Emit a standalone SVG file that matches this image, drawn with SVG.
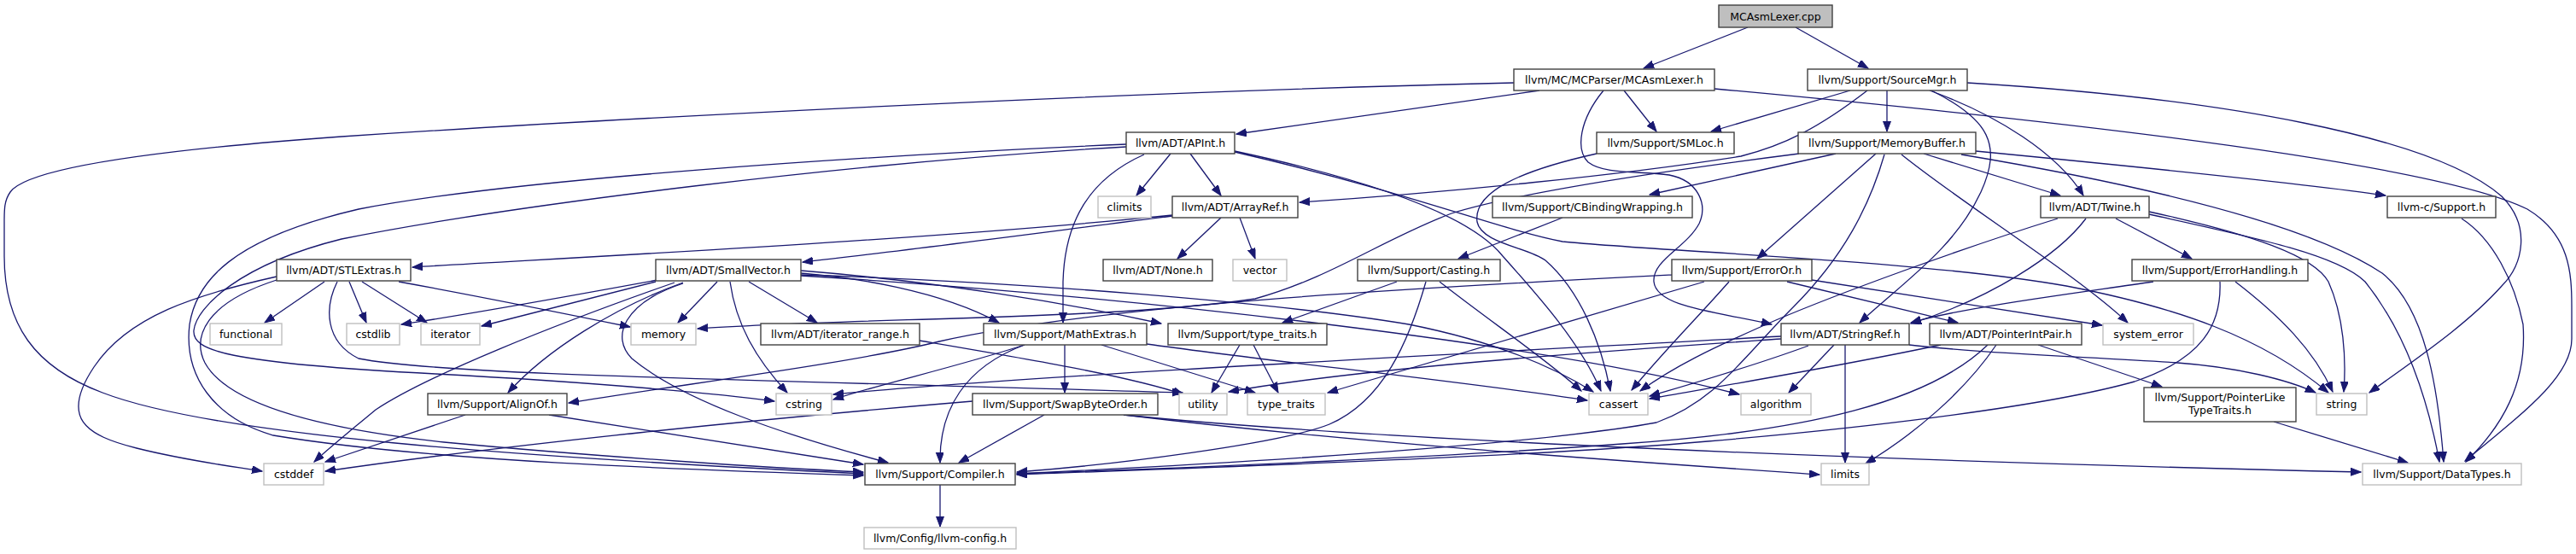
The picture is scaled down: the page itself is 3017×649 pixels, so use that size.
<svg xmlns="http://www.w3.org/2000/svg" width="3017" height="649" viewBox="0 0 3017 649">
<style>
.n rect{fill:#fff;stroke:#404040;stroke-width:1.4}
.g rect{fill:#fff;stroke:#bfbfbf;stroke-width:1.4}
.r rect{fill:#bfbfbf;stroke:#404040;stroke-width:1.4}
text{font-family:"DejaVu Sans","Liberation Sans",sans-serif;font-size:12.5px;text-anchor:middle;fill:#000}
#edges path{fill:none;stroke:#191970;stroke-width:1.3;marker-end:url(#a)}
</style>
<defs>
<marker id="a" markerUnits="userSpaceOnUse" markerWidth="13" markerHeight="10" refX="12" refY="4.5" orient="auto">
<path d="M0,0 L12,4.5 L0,9 z" fill="#191970" stroke="#191970" stroke-width="1"/>
</marker>
</defs>
<rect width="3017" height="649" fill="#fff"/>
<g id="edges">
<path d="M2047,32 L1925,80"/>
<path d="M2103,32 L2188,80"/>
<path d="M1803,106 L1448,157"/>
<path d="M1902,106 L1940,154"/>
<path d="M1878,106 C1850,140 1845,175 1860,190 C1880,205 1920,200 1955,205 C1990,212 2000,240 1990,262 C1975,290 1935,305 1937,330 C1940,360 2010,365 2075,380"/>
<path d="M1773,97 C1300,108 700,140 400,160 C150,178 30,200 12,225 C5,235 5,245 5,260 L5,300 C5,380 40,430 120,460 C250,510 600,535 1011,555"/>
<path d="M2008,104 C2400,140 2850,190 2960,245 C3010,275 3012,320 3012,360 L3012,397 C3012,440 2960,480 2887,540"/>
<path d="M2167,106 L2004,154"/>
<path d="M2210,106 L2210,154"/>
<path d="M2260,106 C2340,135 2410,180 2440,229"/>
<path d="M2262,106 C2330,140 2345,170 2320,225 C2290,290 2230,330 2178,378"/>
<path d="M2187,106 C2130,150 2090,170 2039,183 C1900,205 1700,225 1522,237"/>
<path d="M2304,97 C2600,115 2850,160 2930,230 C2965,265 2955,310 2930,335 C2890,380 2830,420 2775,460"/>
<path d="M1371,180 L1331,229"/>
<path d="M1394,180 L1430,229"/>
<path d="M1340,181 C1275,210 1247,260 1245,330 L1245,378"/>
<path d="M1319,169 C1000,183 600,210 420,245 C270,280 230,330 222,380 C215,440 250,490 320,510 C500,540 800,550 1011,557"/>
<path d="M1319,172 C1000,190 600,240 400,280 C280,310 230,360 227,387 C225,410 260,425 510,438 C700,448 850,462 907,470"/>
<path d="M1446,177 C1600,210 1720,250 1760,300 C1800,345 1850,400 1875,458"/>
<path d="M1446,178 C1650,225 1760,270 1830,283 C1950,295 2250,305 2420,335 C2550,360 2650,395 2727,460"/>
<path d="M1870,180 C1780,200 1725,225 1730,260 C1735,285 1790,290 1810,305 C1850,340 1875,400 1886,458"/>
<path d="M2150,180 L1932,228"/>
<path d="M2197,180 L2058,303"/>
<path d="M2253,180 L2413,229"/>
<path d="M2314,177 C2500,195 2700,215 2794,229"/>
<path d="M2297,181 C2500,215 2700,260 2790,320 C2840,360 2855,450 2862,541"/>
<path d="M2227,181 C2300,240 2430,320 2492,378"/>
<path d="M2107,180 C1950,200 1780,225 1700,250 C1620,280 1560,325 1470,350 C1300,375 1000,372 817,385"/>
<path d="M2207,181 C2190,240 2160,300 2100,360 C2040,420 2010,470 1940,495 C1800,520 1500,540 1191,555"/>
<path d="M1430,255 L1379,303"/>
<path d="M1452,255 L1470,303"/>
<path d="M1373,253 C1200,275 1050,295 940,307"/>
<path d="M1373,252 C1100,280 700,300 483,313"/>
<path d="M1830,255 L1708,303"/>
<path d="M2410,256 C2300,290 2150,345 2080,375 C2000,410 1960,430 1921,458"/>
<path d="M2443,256 C2410,300 2330,350 2238,379"/>
<path d="M2478,256 L2567,303"/>
<path d="M2517,248 C2640,275 2710,300 2727,330 C2745,370 2748,420 2745,459"/>
<path d="M2517,251 C2650,280 2740,300 2770,330 C2810,380 2840,450 2857,541"/>
<path d="M2883,256 C2920,280 2945,330 2955,380 C2960,450 2930,500 2888,541"/>
<path d="M380,330 L310,378"/>
<path d="M409,330 L429,378"/>
<path d="M424,330 L500,378"/>
<path d="M467,330 C550,345 650,365 738,383"/>
<path d="M395,330 C380,360 380,400 420,420 C520,440 900,445 1385,460"/>
<path d="M324,324 C230,345 150,370 110,430 C70,490 100,510 160,525 C220,540 270,546 307,552"/>
<path d="M324,328 C240,355 225,395 240,425 C270,480 400,505 520,518 C700,535 900,548 1011,553"/>
<path d="M768,330 L564,382"/>
<path d="M770,328 C650,350 550,368 470,380"/>
<path d="M840,330 L794,378"/>
<path d="M800,331 C720,360 640,410 595,460"/>
<path d="M855,330 C862,380 885,420 922,460"/>
<path d="M877,330 L957,378"/>
<path d="M800,332 C730,355 715,395 740,420 C800,470 920,510 1040,542"/>
<path d="M790,331 C650,380 500,440 440,480 C410,505 385,525 368,541"/>
<path d="M938,320 C1000,325 1100,340 1170,378"/>
<path d="M938,317 C1100,330 1250,355 1360,379"/>
<path d="M938,322 C1200,330 1500,355 1650,380 C1750,400 1820,430 1866,459"/>
<path d="M938,323 C1300,345 1800,400 2037,462"/>
<path d="M1636,330 L1502,378"/>
<path d="M1686,330 C1750,380 1810,420 1852,458"/>
<path d="M1670,330 C1650,400 1620,470 1557,497 C1500,520 1300,545 1191,553"/>
<path d="M1958,322 C1700,335 1300,355 1100,400 C1000,425 800,450 666,472"/>
<path d="M1996,330 L1555,460"/>
<path d="M2025,330 C1990,370 1950,410 1911,457"/>
<path d="M2122,328 L2462,381"/>
<path d="M2093,330 L2293,378"/>
<path d="M2522,330 C2420,345 2300,360 2238,378"/>
<path d="M2600,330 C2602,380 2580,420 2500,447 C2400,475 2200,500 2000,517 C1800,535 1400,548 1191,556"/>
<path d="M2618,330 C2670,370 2710,410 2732,459"/>
<path d="M1077,399 C1200,420 1320,440 1386,462"/>
<path d="M1247,404 L1247,460"/>
<path d="M1200,404 C1130,430 1100,480 1101,542"/>
<path d="M1200,404 C1120,430 1030,450 976,468"/>
<path d="M1290,404 L1470,460"/>
<path d="M1343,403 C1500,425 1700,445 1859,469"/>
<path d="M1452,404 L1419,460"/>
<path d="M1468,404 L1497,460"/>
<path d="M2148,404 L2095,460"/>
<path d="M2161,404 L2161,542"/>
<path d="M2118,405 C2050,430 1980,450 1932,464"/>
<path d="M2086,394 C1800,410 1200,440 976,462"/>
<path d="M2086,397 C1900,410 1600,430 1439,459"/>
<path d="M2236,404 C2330,415 2450,418 2550,425 C2620,430 2680,445 2712,460"/>
<path d="M2273,404 C2150,430 2000,455 1932,467"/>
<path d="M2328,404 C2260,470 2120,505 1900,520 C1700,535 1400,548 1191,555"/>
<path d="M2338,404 C2300,460 2240,510 2185,543"/>
<path d="M2387,404 L2532,453"/>
<path d="M545,486 L381,541"/>
<path d="M643,486 C800,510 920,530 1011,544"/>
<path d="M1139,470 C900,490 600,520 381,552"/>
<path d="M1223,486 L1123,542"/>
<path d="M1316,486 C1600,520 1900,540 2131,556"/>
<path d="M1316,486 C1600,515 2200,540 2765,553"/>
<path d="M2663,494 L2820,542"/>
<path d="M1101,568 L1101,617"/>
</g>
<g id="n_cpp" class="r"><rect x="2013" y="6" width="133" height="26"/><text x="2079.5" y="23.5">MCAsmLexer.cpp</text></g>
<g id="n_lexh" class="n"><rect x="1773" y="81" width="235" height="25"/><text x="1890.5" y="98">llvm/MC/MCParser/MCAsmLexer.h</text></g>
<g id="n_srcmgr" class="n"><rect x="2117" y="81" width="187" height="25"/><text x="2210.5" y="98">llvm/Support/SourceMgr.h</text></g>
<g id="n_apint" class="n"><rect x="1319" y="155" width="127" height="25"/><text x="1382.5" y="172">llvm/ADT/APInt.h</text></g>
<g id="n_smloc" class="n"><rect x="1870" y="155" width="161" height="25"/><text x="1950.5" y="172">llvm/Support/SMLoc.h</text></g>
<g id="n_membuf" class="n"><rect x="2106" y="155" width="208" height="25"/><text x="2210" y="172">llvm/Support/MemoryBuffer.h</text></g>
<g id="n_climits" class="g"><rect x="1286" y="230" width="62" height="25"/><text x="1317" y="247">climits</text></g>
<g id="n_arrayref" class="n"><rect x="1373" y="230" width="147" height="25"/><text x="1446.5" y="247">llvm/ADT/ArrayRef.h</text></g>
<g id="n_cbind" class="n"><rect x="1748" y="230" width="234" height="25"/><text x="1865" y="247">llvm/Support/CBindingWrapping.h</text></g>
<g id="n_twine" class="n"><rect x="2390" y="230" width="127" height="25"/><text x="2453.5" y="247">llvm/ADT/Twine.h</text></g>
<g id="n_csupport" class="n"><rect x="2796" y="230" width="127" height="25"/><text x="2859.5" y="247">llvm-c/Support.h</text></g>
<g id="n_stlextras" class="n"><rect x="324" y="304" width="157" height="25"/><text x="402.5" y="321">llvm/ADT/STLExtras.h</text></g>
<g id="n_smallvec" class="n"><rect x="768" y="304" width="170" height="25"/><text x="853" y="321">llvm/ADT/SmallVector.h</text></g>
<g id="n_none" class="n"><rect x="1292" y="304" width="128" height="25"/><text x="1356" y="321">llvm/ADT/None.h</text></g>
<g id="n_vector" class="g"><rect x="1444" y="304" width="63" height="25"/><text x="1475.5" y="321">vector</text></g>
<g id="n_casting" class="n"><rect x="1590" y="304" width="167" height="25"/><text x="1673.5" y="321">llvm/Support/Casting.h</text></g>
<g id="n_erroror" class="n"><rect x="1958" y="304" width="164" height="25"/><text x="2040" y="321">llvm/Support/ErrorOr.h</text></g>
<g id="n_errhand" class="n"><rect x="2497" y="304" width="206" height="25"/><text x="2600" y="321">llvm/Support/ErrorHandling.h</text></g>
<g id="n_functional" class="g"><rect x="246" y="379" width="84" height="25"/><text x="288" y="396">functional</text></g>
<g id="n_cstdlib" class="g"><rect x="406" y="379" width="62" height="25"/><text x="437" y="396">cstdlib</text></g>
<g id="n_iterator" class="g"><rect x="493" y="379" width="69" height="25"/><text x="527.5" y="396">iterator</text></g>
<g id="n_memory" class="g"><rect x="739" y="379" width="76" height="25"/><text x="777" y="396">memory</text></g>
<g id="n_iterrange" class="n"><rect x="891" y="379" width="186" height="25"/><text x="984" y="396">llvm/ADT/iterator_range.h</text></g>
<g id="n_mathext" class="n"><rect x="1152" y="379" width="191" height="25"/><text x="1247.5" y="396">llvm/Support/MathExtras.h</text></g>
<g id="n_typetraitsh" class="n"><rect x="1368" y="379" width="186" height="25"/><text x="1461" y="396">llvm/Support/type_traits.h</text></g>
<g id="n_stringref" class="n"><rect x="2086" y="379" width="150" height="25"/><text x="2161" y="396">llvm/ADT/StringRef.h</text></g>
<g id="n_pip" class="n"><rect x="2260" y="379" width="178" height="25"/><text x="2349" y="396">llvm/ADT/PointerIntPair.h</text></g>
<g id="n_syserr" class="g"><rect x="2463" y="379" width="106" height="25"/><text x="2516" y="396">system_error</text></g>
<g id="n_alignof" class="n"><rect x="501" y="461" width="163" height="25"/><text x="582.5" y="478">llvm/Support/AlignOf.h</text></g>
<g id="n_cstring" class="g"><rect x="909" y="461" width="65" height="25"/><text x="941.5" y="478">cstring</text></g>
<g id="n_swap" class="n"><rect x="1139" y="461" width="217" height="25"/><text x="1247.5" y="478">llvm/Support/SwapByteOrder.h</text></g>
<g id="n_utility" class="g"><rect x="1381" y="461" width="56" height="25"/><text x="1409" y="478">utility</text></g>
<g id="n_type_traits" class="g"><rect x="1461" y="461" width="91" height="25"/><text x="1506.5" y="478">type_traits</text></g>
<g id="n_cassert" class="g"><rect x="1861" y="461" width="69" height="25"/><text x="1895.5" y="478">cassert</text></g>
<g id="n_algorithm" class="g"><rect x="2039" y="461" width="82" height="25"/><text x="2080" y="478">algorithm</text></g>
<g id="n_plt" class="n"><rect x="2511" y="454" width="178" height="40"/><text x="2600" y="470">llvm/Support/PointerLike</text><text x="2600" y="485">TypeTraits.h</text></g>
<g id="n_string" class="g"><rect x="2713" y="461" width="59" height="25"/><text x="2742.5" y="478">string</text></g>
<g id="n_cstddef" class="g"><rect x="309" y="543" width="70" height="25"/><text x="344" y="560">cstddef</text></g>
<g id="n_compiler" class="n"><rect x="1013" y="543" width="176" height="25"/><text x="1101" y="560">llvm/Support/Compiler.h</text></g>
<g id="n_limits" class="g"><rect x="2133" y="543" width="56" height="25"/><text x="2161" y="560">limits</text></g>
<g id="n_datatypes" class="g"><rect x="2767" y="543" width="186" height="25"/><text x="2860" y="560">llvm/Support/DataTypes.h</text></g>
<g id="n_config" class="g"><rect x="1012" y="618" width="178" height="25"/><text x="1101" y="635">llvm/Config/llvm-config.h</text></g>
</svg>
